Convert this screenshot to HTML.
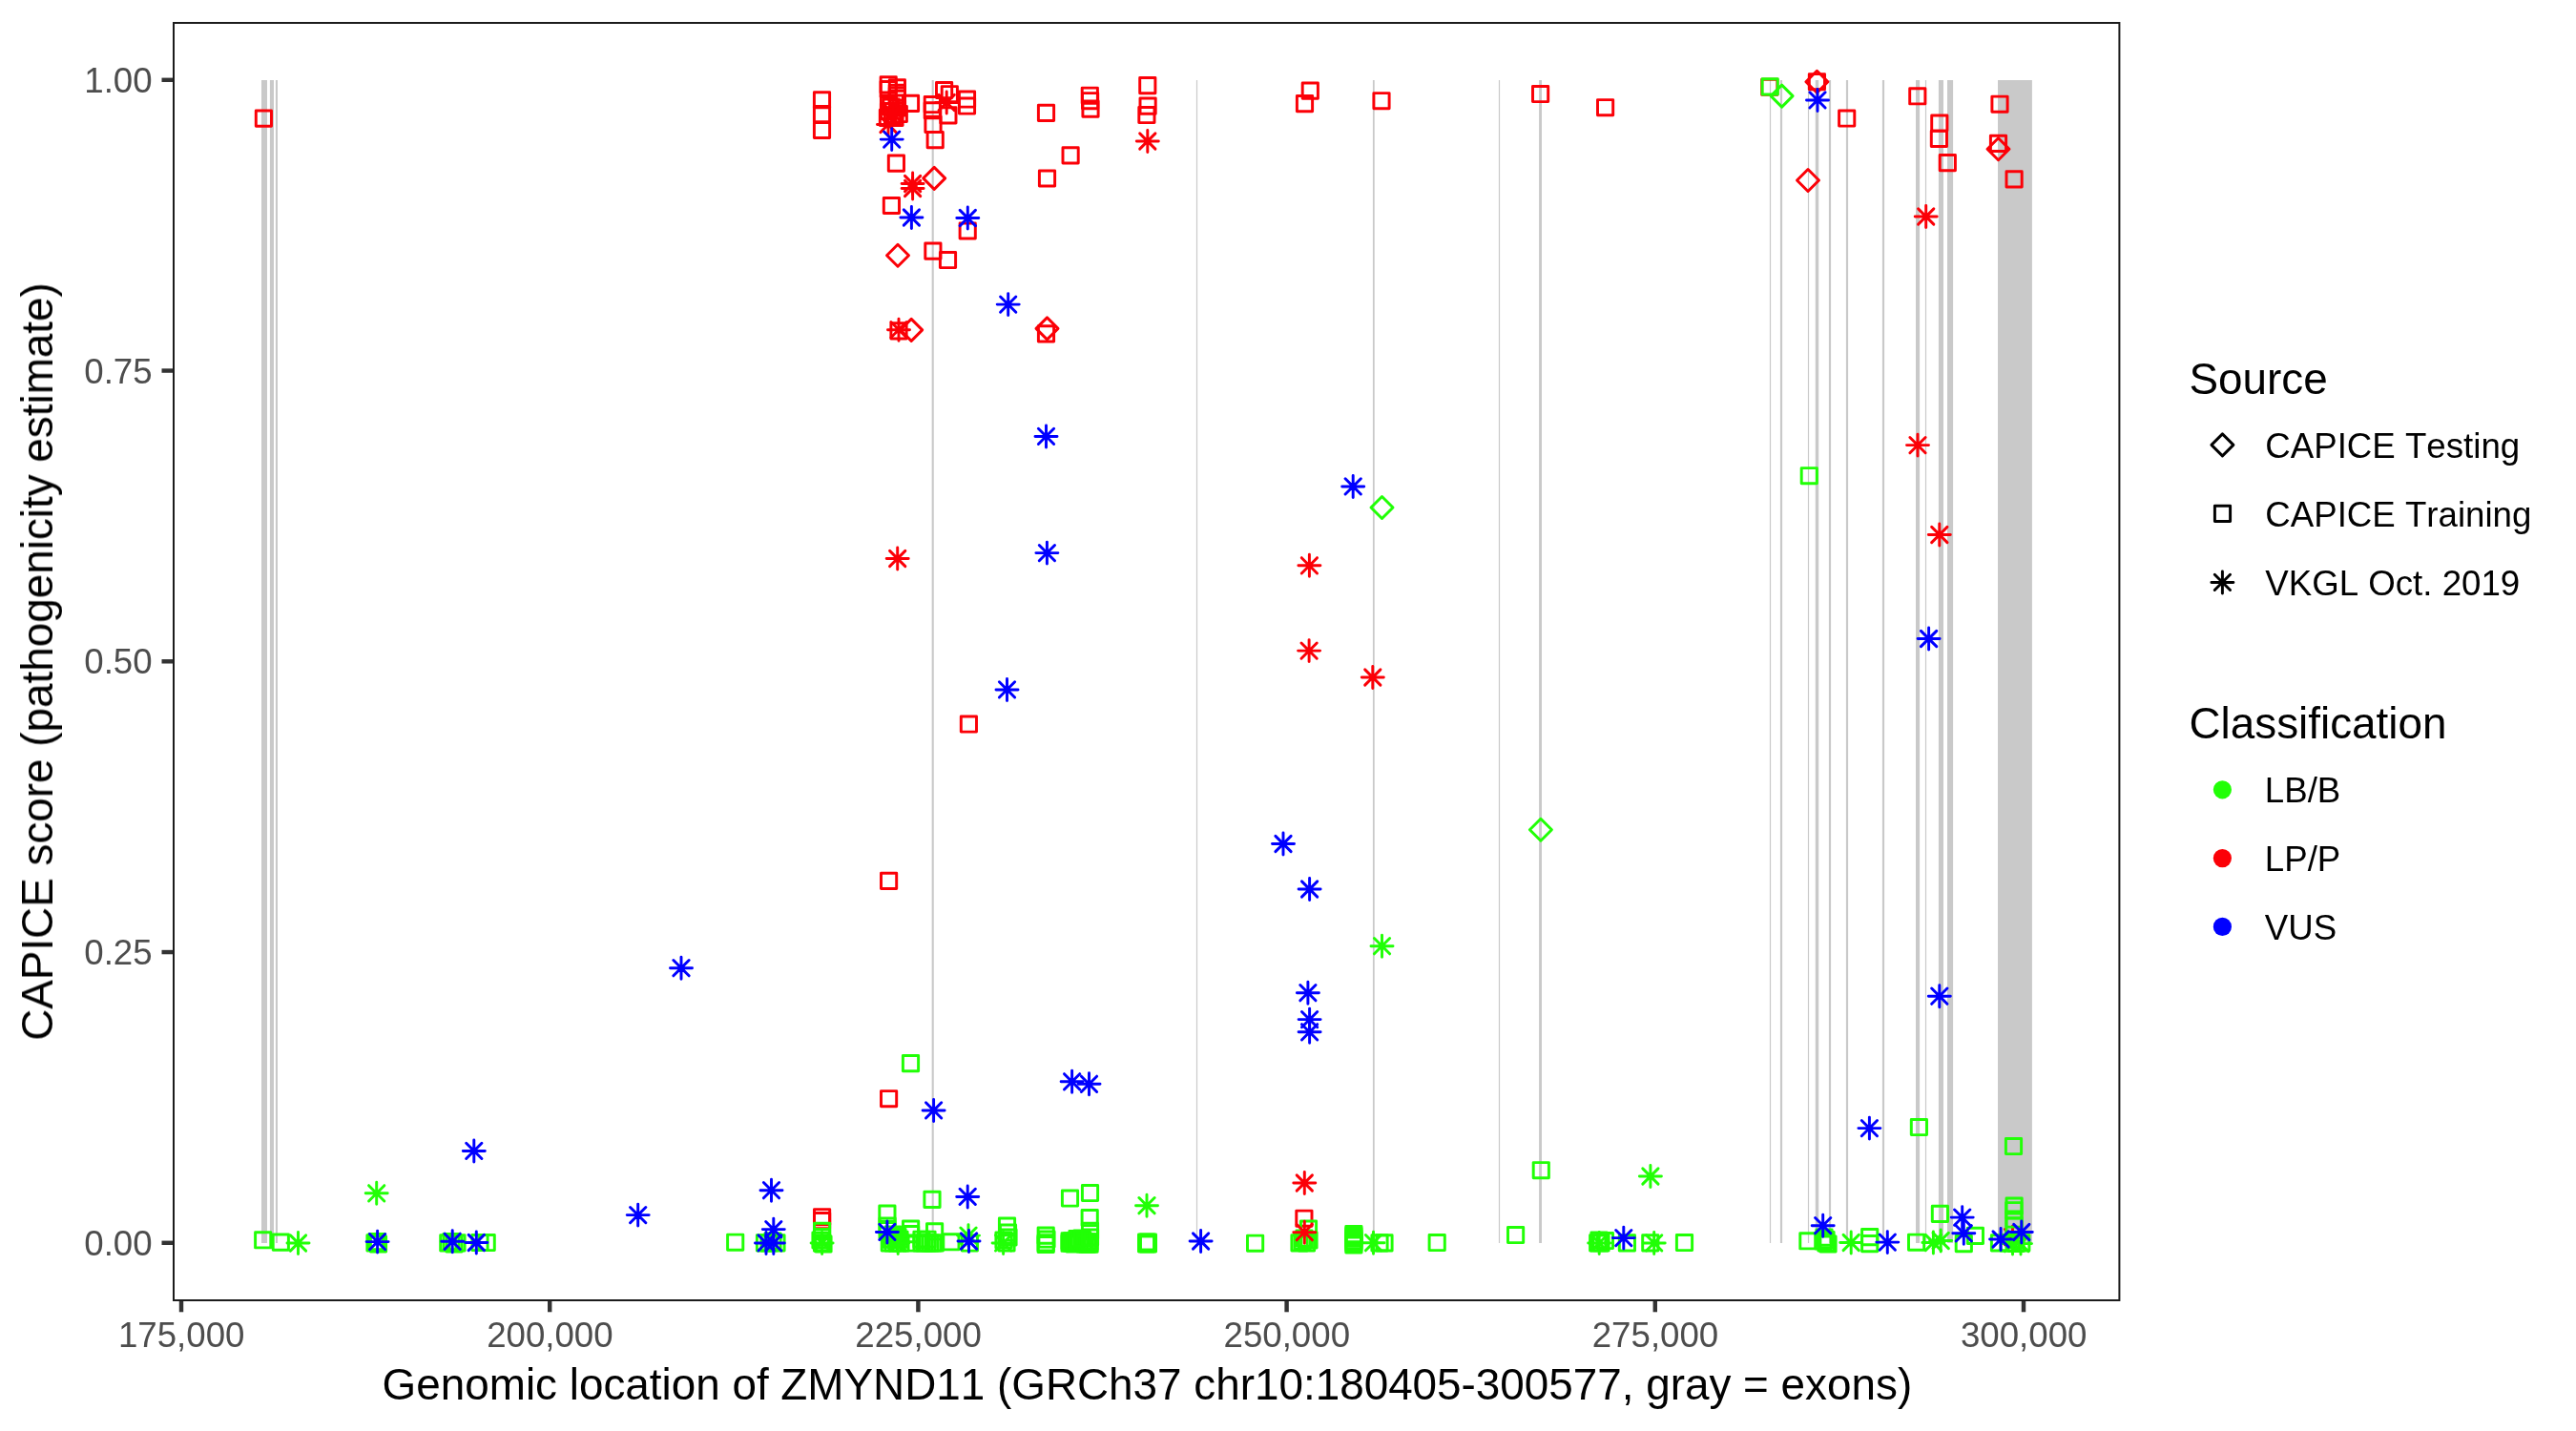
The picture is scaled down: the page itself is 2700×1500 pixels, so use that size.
<!DOCTYPE html>
<html><head><meta charset="utf-8"><title>CAPICE ZMYND11</title>
<style>
html,body{margin:0;padding:0;background:#fff;}
svg{display:block}
text{font-family:"Liberation Sans",Arial,Helvetica,sans-serif;font-kerning:none;}
#txt{opacity:0.999}
.tk{font-size:36.67px;fill:#4D4D4D}
.lb{font-size:36.67px;fill:#000}
.ti{font-size:45.83px;fill:#000}
</style></head><body>
<svg width="2700" height="1500" viewBox="0 0 2700 1500">
<rect width="2700" height="1500" fill="#fff"/>

<g fill="#C9C9C9">
<rect x="274.0" y="84.0" width="6.00" height="1219.0"/>
<rect x="282.9" y="84.0" width="4.10" height="1219.0"/>
<rect x="288.9" y="84.0" width="2.10" height="1219.0"/>
<rect x="976.65" y="84.0" width="2.10" height="1219.0"/>
<rect x="1253.9" y="84.0" width="1.20" height="1219.0"/>
<rect x="1438.9" y="84.0" width="1.80" height="1219.0"/>
<rect x="1570.9" y="84.0" width="1.20" height="1219.0"/>
<rect x="1613.1" y="84.0" width="2.90" height="1219.0"/>
<rect x="1854.9" y="84.0" width="1.20" height="1219.0"/>
<rect x="1865.9" y="84.0" width="2.20" height="1219.0"/>
<rect x="1894.9" y="84.0" width="1.20" height="1219.0"/>
<rect x="1902.8" y="84.0" width="3.40" height="1219.0"/>
<rect x="1916.9" y="84.0" width="2.20" height="1219.0"/>
<rect x="1934.9" y="84.0" width="2.20" height="1219.0"/>
<rect x="1972.9" y="84.0" width="2.20" height="1219.0"/>
<rect x="2008.0" y="84.0" width="4.10" height="1219.0"/>
<rect x="2017.9" y="84.0" width="1.20" height="1219.0"/>
<rect x="2031.9" y="84.0" width="5.10" height="1219.0"/>
<rect x="2041.0" y="84.0" width="6.10" height="1219.0"/>
<rect x="2094.0" y="84.0" width="35.90" height="1219.0"/>
</g>
<g fill="none" stroke-width="2.95" stroke-linejoin="round" stroke-linecap="round">
<rect x="268.30" y="116.00" width="16.20" height="16.20" stroke="#FB0007"/>
<rect x="853.40" y="96.70" width="16.20" height="16.20" stroke="#FB0007"/>
<rect x="853.40" y="111.50" width="16.20" height="16.20" stroke="#FB0007"/>
<rect x="853.40" y="128.40" width="16.20" height="16.20" stroke="#FB0007"/>
<rect x="923.10" y="80.80" width="16.20" height="16.20" stroke="#FB0007"/>
<rect x="923.10" y="85.40" width="16.20" height="16.20" stroke="#FB0007"/>
<rect x="932.30" y="83.80" width="16.20" height="16.20" stroke="#FB0007"/>
<rect x="932.30" y="89.20" width="16.20" height="16.20" stroke="#FB0007"/>
<rect x="932.30" y="92.00" width="16.20" height="16.20" stroke="#FB0007"/>
<rect x="932.30" y="95.30" width="16.20" height="16.20" stroke="#FB0007"/>
<rect x="923.40" y="99.90" width="16.20" height="16.20" stroke="#FB0007"/>
<rect x="925.90" y="103.90" width="16.20" height="16.20" stroke="#FB0007"/>
<rect x="932.40" y="104.90" width="16.20" height="16.20" stroke="#FB0007"/>
<rect x="923.40" y="108.40" width="16.20" height="16.20" stroke="#FB0007"/>
<rect x="927.40" y="112.90" width="16.20" height="16.20" stroke="#FB0007"/>
<rect x="934.20" y="111.40" width="16.20" height="16.20" stroke="#FB0007"/>
<rect x="922.30" y="115.30" width="16.20" height="16.20" stroke="#FB0007"/>
<rect x="929.90" y="115.30" width="16.20" height="16.20" stroke="#FB0007"/>
<rect x="946.40" y="100.30" width="16.20" height="16.20" stroke="#FB0007"/>
<rect x="969.20" y="101.40" width="16.20" height="16.20" stroke="#FB0007"/>
<rect x="969.20" y="107.70" width="16.20" height="16.20" stroke="#FB0007"/>
<rect x="969.90" y="122.20" width="16.20" height="16.20" stroke="#FB0007"/>
<rect x="972.10" y="138.50" width="16.20" height="16.20" stroke="#FB0007"/>
<rect x="981.50" y="86.40" width="16.20" height="16.20" stroke="#FB0007"/>
<rect x="987.20" y="90.60" width="16.20" height="16.20" stroke="#FB0007"/>
<rect x="985.80" y="112.70" width="16.20" height="16.20" stroke="#FB0007"/>
<rect x="1005.40" y="95.90" width="16.20" height="16.20" stroke="#FB0007"/>
<rect x="1005.40" y="102.90" width="16.20" height="16.20" stroke="#FB0007"/>
<rect x="931.30" y="163.00" width="16.20" height="16.20" stroke="#FB0007"/>
<rect x="926.30" y="207.40" width="16.20" height="16.20" stroke="#FB0007"/>
<rect x="1006.10" y="233.90" width="16.20" height="16.20" stroke="#FB0007"/>
<rect x="969.80" y="255.00" width="16.20" height="16.20" stroke="#FB0007"/>
<rect x="985.40" y="264.40" width="16.20" height="16.20" stroke="#FB0007"/>
<rect x="933.90" y="338.80" width="16.20" height="16.20" stroke="#FB0007"/>
<rect x="1088.40" y="341.80" width="16.20" height="16.20" stroke="#FB0007"/>
<rect x="1088.40" y="110.30" width="16.20" height="16.20" stroke="#FB0007"/>
<rect x="1114.00" y="154.70" width="16.20" height="16.20" stroke="#FB0007"/>
<rect x="1089.40" y="178.90" width="16.20" height="16.20" stroke="#FB0007"/>
<rect x="1134.20" y="92.10" width="16.20" height="16.20" stroke="#FB0007"/>
<rect x="1134.50" y="97.60" width="16.20" height="16.20" stroke="#FB0007"/>
<rect x="1134.90" y="106.00" width="16.20" height="16.20" stroke="#FB0007"/>
<rect x="1194.70" y="81.50" width="16.20" height="16.20" stroke="#FB0007"/>
<rect x="1195.00" y="103.00" width="16.20" height="16.20" stroke="#FB0007"/>
<rect x="1193.80" y="112.40" width="16.20" height="16.20" stroke="#FB0007"/>
<rect x="1365.20" y="87.00" width="16.20" height="16.20" stroke="#FB0007"/>
<rect x="1359.40" y="100.50" width="16.20" height="16.20" stroke="#FB0007"/>
<rect x="1439.90" y="97.60" width="16.20" height="16.20" stroke="#FB0007"/>
<rect x="1606.50" y="90.40" width="16.20" height="16.20" stroke="#FB0007"/>
<rect x="1674.50" y="104.60" width="16.20" height="16.20" stroke="#FB0007"/>
<rect x="1846.70" y="83.20" width="16.20" height="16.20" stroke="#FB0007"/>
<rect x="1896.30" y="77.60" width="16.20" height="16.20" stroke="#FB0007"/>
<rect x="1927.60" y="115.90" width="16.20" height="16.20" stroke="#FB0007"/>
<rect x="2001.70" y="92.70" width="16.20" height="16.20" stroke="#FB0007"/>
<rect x="2024.70" y="120.90" width="16.20" height="16.20" stroke="#FB0007"/>
<rect x="2024.30" y="137.30" width="16.20" height="16.20" stroke="#FB0007"/>
<rect x="2033.20" y="162.50" width="16.20" height="16.20" stroke="#FB0007"/>
<rect x="2087.90" y="101.10" width="16.20" height="16.20" stroke="#FB0007"/>
<rect x="2086.40" y="142.30" width="16.20" height="16.20" stroke="#FB0007"/>
<rect x="2103.00" y="179.70" width="16.20" height="16.20" stroke="#FB0007"/>
<rect x="1007.30" y="750.90" width="16.20" height="16.20" stroke="#FB0007"/>
<rect x="923.50" y="915.20" width="16.20" height="16.20" stroke="#FB0007"/>
<rect x="923.50" y="1143.60" width="16.20" height="16.20" stroke="#FB0007"/>
<rect x="853.50" y="1267.60" width="16.20" height="16.20" stroke="#FB0007"/>
<rect x="853.50" y="1271.50" width="16.20" height="16.20" stroke="#FB0007"/>
<rect x="1358.80" y="1269.10" width="16.20" height="16.20" stroke="#FB0007"/>
<path d="M967.70 186.90L979.20 175.40L990.70 186.90L979.20 198.40Z" stroke="#FB0007"/>
<path d="M929.50 267.80L941.00 256.30L952.50 267.80L941.00 279.30Z" stroke="#FB0007"/>
<path d="M943.70 345.90L955.20 334.40L966.70 345.90L955.20 357.40Z" stroke="#FB0007"/>
<path d="M1086.00 344.40L1097.50 332.90L1109.00 344.40L1097.50 355.90Z" stroke="#FB0007"/>
<path d="M1892.90 85.70L1904.40 74.20L1915.90 85.70L1904.40 97.20Z" stroke="#FB0007"/>
<path d="M1883.50 189.00L1895.00 177.50L1906.50 189.00L1895.00 200.50Z" stroke="#FB0007"/>
<path d="M2083.00 156.30L2094.50 144.80L2106.00 156.30L2094.50 167.80Z" stroke="#FB0007"/>
<path d="M2098.00 1296.60H2121.00M2109.50 1285.10V1308.10M2101.37 1288.47L2117.63 1304.73M2101.37 1304.73L2117.63 1288.47" stroke="#FB0007"/>
<rect x="1847.10" y="82.80" width="16.20" height="16.20" stroke="#21FF06"/>
<rect x="1888.20" y="490.60" width="16.20" height="16.20" stroke="#21FF06"/>
<rect x="946.40" y="1106.50" width="16.20" height="16.20" stroke="#21FF06"/>
<rect x="2003.30" y="1173.40" width="16.20" height="16.20" stroke="#21FF06"/>
<rect x="2102.40" y="1193.40" width="16.20" height="16.20" stroke="#21FF06"/>
<rect x="1607.20" y="1218.60" width="16.20" height="16.20" stroke="#21FF06"/>
<rect x="267.60" y="1291.70" width="16.20" height="16.20" stroke="#21FF06"/>
<rect x="286.20" y="1294.00" width="16.20" height="16.20" stroke="#21FF06"/>
<rect x="384.90" y="1294.80" width="16.20" height="16.20" stroke="#21FF06"/>
<rect x="386.90" y="1293.40" width="16.20" height="16.20" stroke="#21FF06"/>
<rect x="388.40" y="1295.90" width="16.20" height="16.20" stroke="#21FF06"/>
<rect x="461.70" y="1294.80" width="16.20" height="16.20" stroke="#21FF06"/>
<rect x="464.90" y="1293.40" width="16.20" height="16.20" stroke="#21FF06"/>
<rect x="470.90" y="1294.80" width="16.20" height="16.20" stroke="#21FF06"/>
<rect x="467.90" y="1295.90" width="16.20" height="16.20" stroke="#21FF06"/>
<rect x="502.10" y="1294.40" width="16.20" height="16.20" stroke="#21FF06"/>
<rect x="494.90" y="1294.40" width="16.20" height="16.20" stroke="#21FF06"/>
<rect x="762.60" y="1294.10" width="16.20" height="16.20" stroke="#21FF06"/>
<rect x="793.40" y="1294.80" width="16.20" height="16.20" stroke="#21FF06"/>
<rect x="805.90" y="1294.80" width="16.20" height="16.20" stroke="#21FF06"/>
<rect x="797.90" y="1294.80" width="16.20" height="16.20" stroke="#21FF06"/>
<rect x="801.90" y="1292.90" width="16.20" height="16.20" stroke="#21FF06"/>
<rect x="853.50" y="1282.30" width="16.20" height="16.20" stroke="#21FF06"/>
<rect x="853.50" y="1288.50" width="16.20" height="16.20" stroke="#21FF06"/>
<rect x="853.50" y="1294.80" width="16.20" height="16.20" stroke="#21FF06"/>
<rect x="851.90" y="1291.90" width="16.20" height="16.20" stroke="#21FF06"/>
<rect x="854.90" y="1295.90" width="16.20" height="16.20" stroke="#21FF06"/>
<rect x="921.80" y="1264.00" width="16.20" height="16.20" stroke="#21FF06"/>
<rect x="968.90" y="1249.30" width="16.20" height="16.20" stroke="#21FF06"/>
<rect x="971.50" y="1282.70" width="16.20" height="16.20" stroke="#21FF06"/>
<rect x="988.80" y="1293.70" width="16.20" height="16.20" stroke="#21FF06"/>
<rect x="1047.40" y="1276.90" width="16.20" height="16.20" stroke="#21FF06"/>
<rect x="1048.40" y="1283.90" width="16.20" height="16.20" stroke="#21FF06"/>
<rect x="1046.90" y="1294.80" width="16.20" height="16.20" stroke="#21FF06"/>
<rect x="1043.90" y="1291.90" width="16.20" height="16.20" stroke="#21FF06"/>
<rect x="1048.90" y="1288.90" width="16.20" height="16.20" stroke="#21FF06"/>
<rect x="1088.10" y="1287.00" width="16.20" height="16.20" stroke="#21FF06"/>
<rect x="1088.10" y="1294.80" width="16.20" height="16.20" stroke="#21FF06"/>
<rect x="1088.10" y="1296.40" width="16.20" height="16.20" stroke="#21FF06"/>
<rect x="1088.90" y="1290.90" width="16.20" height="16.20" stroke="#21FF06"/>
<rect x="1113.40" y="1247.90" width="16.20" height="16.20" stroke="#21FF06"/>
<rect x="1134.40" y="1242.40" width="16.20" height="16.20" stroke="#21FF06"/>
<rect x="1134.10" y="1268.40" width="16.20" height="16.20" stroke="#21FF06"/>
<rect x="1134.40" y="1282.30" width="16.20" height="16.20" stroke="#21FF06"/>
<rect x="1113.00" y="1292.80" width="16.20" height="16.20" stroke="#21FF06"/>
<rect x="1115.40" y="1295.20" width="16.20" height="16.20" stroke="#21FF06"/>
<rect x="1113.00" y="1295.20" width="16.20" height="16.20" stroke="#21FF06"/>
<rect x="1115.40" y="1292.80" width="16.20" height="16.20" stroke="#21FF06"/>
<rect x="1131.60" y="1293.60" width="16.20" height="16.20" stroke="#21FF06"/>
<rect x="1134.00" y="1296.00" width="16.20" height="16.20" stroke="#21FF06"/>
<rect x="1131.60" y="1296.00" width="16.20" height="16.20" stroke="#21FF06"/>
<rect x="1134.00" y="1293.60" width="16.20" height="16.20" stroke="#21FF06"/>
<rect x="1119.90" y="1292.90" width="16.20" height="16.20" stroke="#21FF06"/>
<rect x="1123.40" y="1295.40" width="16.20" height="16.20" stroke="#21FF06"/>
<rect x="1126.90" y="1292.40" width="16.20" height="16.20" stroke="#21FF06"/>
<rect x="1117.90" y="1295.90" width="16.20" height="16.20" stroke="#21FF06"/>
<rect x="1128.90" y="1295.90" width="16.20" height="16.20" stroke="#21FF06"/>
<rect x="1120.90" y="1290.40" width="16.20" height="16.20" stroke="#21FF06"/>
<rect x="1125.90" y="1289.90" width="16.20" height="16.20" stroke="#21FF06"/>
<rect x="1134.40" y="1288.90" width="16.20" height="16.20" stroke="#21FF06"/>
<rect x="1193.50" y="1294.00" width="16.20" height="16.20" stroke="#21FF06"/>
<rect x="1195.30" y="1295.80" width="16.20" height="16.20" stroke="#21FF06"/>
<rect x="1193.50" y="1295.80" width="16.20" height="16.20" stroke="#21FF06"/>
<rect x="1195.30" y="1294.00" width="16.20" height="16.20" stroke="#21FF06"/>
<rect x="1307.50" y="1295.10" width="16.20" height="16.20" stroke="#21FF06"/>
<rect x="1363.40" y="1280.00" width="16.20" height="16.20" stroke="#21FF06"/>
<rect x="1353.90" y="1294.80" width="16.20" height="16.20" stroke="#21FF06"/>
<rect x="1361.40" y="1294.80" width="16.20" height="16.20" stroke="#21FF06"/>
<rect x="1358.90" y="1289.90" width="16.20" height="16.20" stroke="#21FF06"/>
<rect x="1363.90" y="1291.90" width="16.20" height="16.20" stroke="#21FF06"/>
<rect x="1356.90" y="1292.90" width="16.20" height="16.20" stroke="#21FF06"/>
<rect x="1410.80" y="1285.40" width="16.20" height="16.20" stroke="#21FF06"/>
<rect x="1410.80" y="1289.90" width="16.20" height="16.20" stroke="#21FF06"/>
<rect x="1410.80" y="1294.80" width="16.20" height="16.20" stroke="#21FF06"/>
<rect x="1410.80" y="1296.90" width="16.20" height="16.20" stroke="#21FF06"/>
<rect x="1410.80" y="1287.40" width="16.20" height="16.20" stroke="#21FF06"/>
<rect x="1410.80" y="1292.40" width="16.20" height="16.20" stroke="#21FF06"/>
<rect x="1442.90" y="1294.80" width="16.20" height="16.20" stroke="#21FF06"/>
<rect x="1437.90" y="1294.80" width="16.20" height="16.20" stroke="#21FF06"/>
<rect x="1498.10" y="1294.40" width="16.20" height="16.20" stroke="#21FF06"/>
<rect x="1580.50" y="1286.40" width="16.20" height="16.20" stroke="#21FF06"/>
<rect x="1666.60" y="1294.80" width="16.20" height="16.20" stroke="#21FF06"/>
<rect x="1674.30" y="1292.40" width="16.20" height="16.20" stroke="#21FF06"/>
<rect x="1669.90" y="1294.80" width="16.20" height="16.20" stroke="#21FF06"/>
<rect x="1667.90" y="1291.90" width="16.20" height="16.20" stroke="#21FF06"/>
<rect x="1697.30" y="1294.80" width="16.20" height="16.20" stroke="#21FF06"/>
<rect x="1721.70" y="1294.80" width="16.20" height="16.20" stroke="#21FF06"/>
<rect x="1757.40" y="1294.40" width="16.20" height="16.20" stroke="#21FF06"/>
<rect x="1886.80" y="1292.70" width="16.20" height="16.20" stroke="#21FF06"/>
<rect x="1905.80" y="1294.80" width="16.20" height="16.20" stroke="#21FF06"/>
<rect x="1903.90" y="1288.90" width="16.20" height="16.20" stroke="#21FF06"/>
<rect x="1902.90" y="1292.90" width="16.20" height="16.20" stroke="#21FF06"/>
<rect x="1907.90" y="1295.90" width="16.20" height="16.20" stroke="#21FF06"/>
<rect x="1905.90" y="1291.40" width="16.20" height="16.20" stroke="#21FF06"/>
<rect x="1951.60" y="1288.50" width="16.20" height="16.20" stroke="#21FF06"/>
<rect x="1951.60" y="1295.50" width="16.20" height="16.20" stroke="#21FF06"/>
<rect x="2000.50" y="1294.10" width="16.20" height="16.20" stroke="#21FF06"/>
<rect x="2025.30" y="1264.30" width="16.20" height="16.20" stroke="#21FF06"/>
<rect x="2062.30" y="1287.30" width="16.20" height="16.20" stroke="#21FF06"/>
<rect x="2050.20" y="1295.50" width="16.20" height="16.20" stroke="#21FF06"/>
<rect x="2103.00" y="1255.90" width="16.20" height="16.20" stroke="#21FF06"/>
<rect x="2102.70" y="1260.60" width="16.20" height="16.20" stroke="#21FF06"/>
<rect x="2102.90" y="1269.90" width="16.20" height="16.20" stroke="#21FF06"/>
<rect x="2102.90" y="1276.90" width="16.20" height="16.20" stroke="#21FF06"/>
<rect x="2087.40" y="1294.80" width="16.20" height="16.20" stroke="#21FF06"/>
<rect x="2110.70" y="1294.80" width="16.20" height="16.20" stroke="#21FF06"/>
<rect x="2102.90" y="1291.70" width="16.20" height="16.20" stroke="#21FF06"/>
<rect x="2096.90" y="1294.80" width="16.20" height="16.20" stroke="#21FF06"/>
<rect x="2104.90" y="1295.40" width="16.20" height="16.20" stroke="#21FF06"/>
<rect x="924.20" y="1294.90" width="16.20" height="16.20" stroke="#21FF06"/>
<rect x="927.90" y="1294.90" width="16.20" height="16.20" stroke="#21FF06"/>
<rect x="931.90" y="1294.90" width="16.20" height="16.20" stroke="#21FF06"/>
<rect x="935.90" y="1294.90" width="16.20" height="16.20" stroke="#21FF06"/>
<rect x="946.50" y="1294.90" width="16.20" height="16.20" stroke="#21FF06"/>
<rect x="957.90" y="1294.90" width="16.20" height="16.20" stroke="#21FF06"/>
<rect x="960.90" y="1294.90" width="16.20" height="16.20" stroke="#21FF06"/>
<rect x="963.90" y="1294.90" width="16.20" height="16.20" stroke="#21FF06"/>
<rect x="966.90" y="1294.90" width="16.20" height="16.20" stroke="#21FF06"/>
<rect x="969.90" y="1294.90" width="16.20" height="16.20" stroke="#21FF06"/>
<rect x="972.20" y="1294.90" width="16.20" height="16.20" stroke="#21FF06"/>
<rect x="925.90" y="1291.10" width="16.20" height="16.20" stroke="#21FF06"/>
<rect x="930.90" y="1291.10" width="16.20" height="16.20" stroke="#21FF06"/>
<rect x="934.90" y="1291.10" width="16.20" height="16.20" stroke="#21FF06"/>
<rect x="957.90" y="1291.10" width="16.20" height="16.20" stroke="#21FF06"/>
<rect x="963.90" y="1291.10" width="16.20" height="16.20" stroke="#21FF06"/>
<rect x="927.90" y="1285.90" width="16.20" height="16.20" stroke="#21FF06"/>
<rect x="932.90" y="1288.40" width="16.20" height="16.20" stroke="#21FF06"/>
<rect x="946.50" y="1279.90" width="16.20" height="16.20" stroke="#21FF06"/>
<rect x="946.50" y="1285.50" width="16.20" height="16.20" stroke="#21FF06"/>
<rect x="922.00" y="1276.90" width="16.20" height="16.20" stroke="#21FF06"/>
<rect x="922.00" y="1281.50" width="16.20" height="16.20" stroke="#21FF06"/>
<rect x="1008.30" y="1294.90" width="16.20" height="16.20" stroke="#21FF06"/>
<path d="M1856.10 100.60L1867.60 89.10L1879.10 100.60L1867.60 112.10Z" stroke="#21FF06"/>
<path d="M1437.00 532.00L1448.50 520.50L1460.00 532.00L1448.50 543.50Z" stroke="#21FF06"/>
<path d="M1603.40 869.70L1614.90 858.20L1626.40 869.70L1614.90 881.20Z" stroke="#21FF06"/>
<path d="M383.20 1250.80H406.20M394.70 1239.30V1262.30M386.57 1242.67L402.83 1258.93M386.57 1258.93L402.83 1242.67" stroke="#21FF06"/>
<path d="M301.00 1303.00H324.00M312.50 1291.50V1314.50M304.37 1294.87L320.63 1311.13M304.37 1311.13L320.63 1294.87" stroke="#21FF06"/>
<path d="M1437.00 991.70H1460.00M1448.50 980.20V1003.20M1440.37 983.57L1456.63 999.83M1440.37 999.83L1456.63 983.57" stroke="#21FF06"/>
<path d="M1718.40 1233.00H1741.40M1729.90 1221.50V1244.50M1721.77 1224.87L1738.03 1241.13M1721.77 1241.13L1738.03 1224.87" stroke="#21FF06"/>
<path d="M1190.50 1263.70H1213.50M1202.00 1252.20V1275.20M1193.87 1255.57L1210.13 1271.83M1193.87 1271.83L1210.13 1255.57" stroke="#21FF06"/>
<path d="M1003.50 1295.10H1026.50M1015.00 1283.60V1306.60M1006.87 1286.97L1023.13 1303.23M1006.87 1303.23L1023.13 1286.97" stroke="#21FF06"/>
<path d="M850.10 1302.90H873.10M861.60 1291.40V1314.40M853.47 1294.77L869.73 1311.03M853.47 1311.03L869.73 1294.77" stroke="#21FF06"/>
<path d="M1040.10 1302.90H1063.10M1051.60 1291.40V1314.40M1043.47 1294.77L1059.73 1311.03M1043.47 1311.03L1059.73 1294.77" stroke="#21FF06"/>
<path d="M1428.00 1302.70H1451.00M1439.50 1291.20V1314.20M1431.37 1294.57L1447.63 1310.83M1431.37 1310.83L1447.63 1294.57" stroke="#21FF06"/>
<path d="M1664.70 1302.90H1687.70M1676.20 1291.40V1314.40M1668.07 1294.77L1684.33 1311.03M1668.07 1311.03L1684.33 1294.77" stroke="#21FF06"/>
<path d="M1722.20 1302.90H1745.20M1733.70 1291.40V1314.40M1725.57 1294.77L1741.83 1311.03M1725.57 1311.03L1741.83 1294.77" stroke="#21FF06"/>
<path d="M1928.70 1302.50H1951.70M1940.20 1291.00V1314.00M1932.07 1294.37L1948.33 1310.63M1932.07 1310.63L1948.33 1294.37" stroke="#21FF06"/>
<path d="M2014.90 1302.50H2037.90M2026.40 1291.00V1314.00M2018.27 1294.37L2034.53 1310.63M2018.27 1310.63L2034.53 1294.37" stroke="#21FF06"/>
<path d="M2022.70 1300.50H2045.70M2034.20 1289.00V1312.00M2026.07 1292.37L2042.33 1308.63M2026.07 1308.63L2042.33 1292.37" stroke="#21FF06"/>
<path d="M2098.00 1303.60H2121.00M2109.50 1292.10V1315.10M2101.37 1295.47L2117.63 1311.73M2101.37 1311.73L2117.63 1295.47" stroke="#21FF06"/>
<path d="M2106.50 1303.60H2129.50M2118.00 1292.10V1315.10M2109.87 1295.47L2126.13 1311.73M2109.87 1311.73L2126.13 1295.47" stroke="#21FF06"/>
<path d="M929.70 1302.90H952.70M941.20 1291.40V1314.40M933.07 1294.77L949.33 1311.03M933.07 1311.03L949.33 1294.77" stroke="#21FF06"/>
<path d="M980.70 107.50H1003.70M992.20 96.00V119.00M984.07 99.37L1000.33 115.63M984.07 115.63L1000.33 99.37" stroke="#FB0007"/>
<path d="M919.50 130.50H942.50M931.00 119.00V142.00M922.87 122.37L939.13 138.63M922.87 138.63L939.13 122.37" stroke="#FB0007"/>
<path d="M924.50 119.00H947.50M936.00 107.50V130.50M927.87 110.87L944.13 127.13M927.87 127.13L944.13 110.87" stroke="#FB0007"/>
<path d="M945.10 192.50H968.10M956.60 181.00V204.00M948.47 184.37L964.73 200.63M948.47 200.63L964.73 184.37" stroke="#FB0007"/>
<path d="M945.10 197.50H968.10M956.60 186.00V209.00M948.47 189.37L964.73 205.63M948.47 205.63L964.73 189.37" stroke="#FB0007"/>
<path d="M1191.30 148.00H1214.30M1202.80 136.50V159.50M1194.67 139.87L1210.93 156.13M1194.67 156.13L1210.93 139.87" stroke="#FB0007"/>
<path d="M930.50 345.70H953.50M942.00 334.20V357.20M933.87 337.57L950.13 353.83M933.87 353.83L950.13 337.57" stroke="#FB0007"/>
<path d="M929.20 585.50H952.20M940.70 574.00V597.00M932.57 577.37L948.83 593.63M932.57 593.63L948.83 577.37" stroke="#FB0007"/>
<path d="M1360.90 592.80H1383.90M1372.40 581.30V604.30M1364.27 584.67L1380.53 600.93M1364.27 600.93L1380.53 584.67" stroke="#FB0007"/>
<path d="M1360.60 682.10H1383.60M1372.10 670.60V693.60M1363.97 673.97L1380.23 690.23M1363.97 690.23L1380.23 673.97" stroke="#FB0007"/>
<path d="M1427.30 710.00H1450.30M1438.80 698.50V721.50M1430.67 701.87L1446.93 718.13M1430.67 718.13L1446.93 701.87" stroke="#FB0007"/>
<path d="M2007.20 227.00H2030.20M2018.70 215.50V238.50M2010.57 218.87L2026.83 235.13M2010.57 235.13L2026.83 218.87" stroke="#FB0007"/>
<path d="M1998.50 466.60H2021.50M2010.00 455.10V478.10M2001.87 458.47L2018.13 474.73M2001.87 474.73L2018.13 458.47" stroke="#FB0007"/>
<path d="M2021.30 560.50H2044.30M2032.80 549.00V572.00M2024.67 552.37L2040.93 568.63M2024.67 568.63L2040.93 552.37" stroke="#FB0007"/>
<path d="M1355.80 1240.00H1378.80M1367.30 1228.50V1251.50M1359.17 1231.87L1375.43 1248.13M1359.17 1248.13L1375.43 1231.87" stroke="#FB0007"/>
<path d="M1355.80 1291.70H1378.80M1367.30 1280.20V1303.20M1359.17 1283.57L1375.43 1299.83M1359.17 1299.83L1375.43 1283.57" stroke="#FB0007"/>
<path d="M923.20 146.10H946.20M934.70 134.60V157.60M926.57 137.97L942.83 154.23M926.57 154.23L942.83 137.97" stroke="#0000FF"/>
<path d="M943.90 228.00H966.90M955.40 216.50V239.50M947.27 219.87L963.53 236.13M947.27 236.13L963.53 219.87" stroke="#0000FF"/>
<path d="M1002.80 228.50H1025.80M1014.30 217.00V240.00M1006.17 220.37L1022.43 236.63M1006.17 236.63L1022.43 220.37" stroke="#0000FF"/>
<path d="M1045.20 319.10H1068.20M1056.70 307.60V330.60M1048.57 310.97L1064.83 327.23M1048.57 327.23L1064.83 310.97" stroke="#0000FF"/>
<path d="M1085.00 457.40H1108.00M1096.50 445.90V468.90M1088.37 449.27L1104.63 465.53M1088.37 465.53L1104.63 449.27" stroke="#0000FF"/>
<path d="M1085.90 579.60H1108.90M1097.40 568.10V591.10M1089.27 571.47L1105.53 587.73M1089.27 587.73L1105.53 571.47" stroke="#0000FF"/>
<path d="M1406.70 509.90H1429.70M1418.20 498.40V521.40M1410.07 501.77L1426.33 518.03M1410.07 518.03L1426.33 501.77" stroke="#0000FF"/>
<path d="M1044.00 722.90H1067.00M1055.50 711.40V734.40M1047.37 714.77L1063.63 731.03M1047.37 731.03L1063.63 714.77" stroke="#0000FF"/>
<path d="M1333.50 884.50H1356.50M1345.00 873.00V896.00M1336.87 876.37L1353.13 892.63M1336.87 892.63L1353.13 876.37" stroke="#0000FF"/>
<path d="M1361.10 932.00H1384.10M1372.60 920.50V943.50M1364.47 923.87L1380.73 940.13M1364.47 940.13L1380.73 923.87" stroke="#0000FF"/>
<path d="M1359.40 1040.70H1382.40M1370.90 1029.20V1052.20M1362.77 1032.57L1379.03 1048.83M1362.77 1048.83L1379.03 1032.57" stroke="#0000FF"/>
<path d="M1361.10 1068.60H1384.10M1372.60 1057.10V1080.10M1364.47 1060.47L1380.73 1076.73M1364.47 1076.73L1380.73 1060.47" stroke="#0000FF"/>
<path d="M1361.10 1081.80H1384.10M1372.60 1070.30V1093.30M1364.47 1073.67L1380.73 1089.93M1364.47 1089.93L1380.73 1073.67" stroke="#0000FF"/>
<path d="M1112.10 1133.80H1135.10M1123.60 1122.30V1145.30M1115.47 1125.67L1131.73 1141.93M1115.47 1141.93L1131.73 1125.67" stroke="#0000FF"/>
<path d="M1130.00 1136.30H1153.00M1141.50 1124.80V1147.80M1133.37 1128.17L1149.63 1144.43M1133.37 1144.43L1149.63 1128.17" stroke="#0000FF"/>
<path d="M967.10 1163.90H990.10M978.60 1152.40V1175.40M970.47 1155.77L986.73 1172.03M970.47 1172.03L986.73 1155.77" stroke="#0000FF"/>
<path d="M1002.70 1254.40H1025.70M1014.20 1242.90V1265.90M1006.07 1246.27L1022.33 1262.53M1006.07 1262.53L1022.33 1246.27" stroke="#0000FF"/>
<path d="M1893.50 104.90H1916.50M1905.00 93.40V116.40M1896.87 96.77L1913.13 113.03M1896.87 113.03L1913.13 96.77" stroke="#0000FF"/>
<path d="M2010.10 669.50H2033.10M2021.60 658.00V681.00M2013.47 661.37L2029.73 677.63M2013.47 677.63L2029.73 661.37" stroke="#0000FF"/>
<path d="M2021.30 1044.20H2044.30M2032.80 1032.70V1055.70M2024.67 1036.07L2040.93 1052.33M2024.67 1052.33L2040.93 1036.07" stroke="#0000FF"/>
<path d="M1947.90 1182.60H1970.90M1959.40 1171.10V1194.10M1951.27 1174.47L1967.53 1190.73M1951.27 1190.73L1967.53 1174.47" stroke="#0000FF"/>
<path d="M702.50 1014.70H725.50M714.00 1003.20V1026.20M705.87 1006.57L722.13 1022.83M705.87 1022.83L722.13 1006.57" stroke="#0000FF"/>
<path d="M485.30 1206.40H508.30M496.80 1194.90V1217.90M488.67 1198.27L504.93 1214.53M488.67 1214.53L504.93 1198.27" stroke="#0000FF"/>
<path d="M797.00 1247.70H820.00M808.50 1236.20V1259.20M800.37 1239.57L816.63 1255.83M800.37 1255.83L816.63 1239.57" stroke="#0000FF"/>
<path d="M657.20 1273.60H680.20M668.70 1262.10V1285.10M660.57 1265.47L676.83 1281.73M660.57 1281.73L676.83 1265.47" stroke="#0000FF"/>
<path d="M384.10 1301.60H407.10M395.60 1290.10V1313.10M387.47 1293.47L403.73 1309.73M387.47 1309.73L403.73 1293.47" stroke="#0000FF"/>
<path d="M462.70 1301.30H485.70M474.20 1289.80V1312.80M466.07 1293.17L482.33 1309.43M466.07 1309.43L482.33 1293.17" stroke="#0000FF"/>
<path d="M487.80 1302.50H510.80M499.30 1291.00V1314.00M491.17 1294.37L507.43 1310.63M491.17 1310.63L507.43 1294.37" stroke="#0000FF"/>
<path d="M799.30 1288.60H822.30M810.80 1277.10V1300.10M802.67 1280.47L818.93 1296.73M802.67 1296.73L818.93 1280.47" stroke="#0000FF"/>
<path d="M791.50 1302.90H814.50M803.00 1291.40V1314.40M794.87 1294.77L811.13 1311.03M794.87 1311.03L811.13 1294.77" stroke="#0000FF"/>
<path d="M799.30 1302.90H822.30M810.80 1291.40V1314.40M802.67 1294.77L818.93 1311.03M802.67 1311.03L818.93 1294.77" stroke="#0000FF"/>
<path d="M918.40 1291.40H941.40M929.90 1279.90V1302.90M921.77 1283.27L938.03 1299.53M921.77 1299.53L938.03 1283.27" stroke="#0000FF"/>
<path d="M1004.00 1301.00H1027.00M1015.50 1289.50V1312.50M1007.37 1292.87L1023.63 1309.13M1007.37 1309.13L1023.63 1292.87" stroke="#0000FF"/>
<path d="M1247.10 1301.00H1270.10M1258.60 1289.50V1312.50M1250.47 1292.87L1266.73 1309.13M1250.47 1309.13L1266.73 1292.87" stroke="#0000FF"/>
<path d="M1690.30 1297.60H1713.30M1701.80 1286.10V1309.10M1693.67 1289.47L1709.93 1305.73M1693.67 1305.73L1709.93 1289.47" stroke="#0000FF"/>
<path d="M1899.20 1284.70H1922.20M1910.70 1273.20V1296.20M1902.57 1276.57L1918.83 1292.83M1902.57 1292.83L1918.83 1276.57" stroke="#0000FF"/>
<path d="M1966.80 1302.10H1989.80M1978.30 1290.60V1313.60M1970.17 1293.97L1986.43 1310.23M1970.17 1310.23L1986.43 1293.97" stroke="#0000FF"/>
<path d="M2045.20 1276.10H2068.20M2056.70 1264.60V1287.60M2048.57 1267.97L2064.83 1284.23M2048.57 1284.23L2064.83 1267.97" stroke="#0000FF"/>
<path d="M2046.80 1292.80H2069.80M2058.30 1281.30V1304.30M2050.17 1284.67L2066.43 1300.93M2050.17 1300.93L2066.43 1284.67" stroke="#0000FF"/>
<path d="M2085.60 1299.00H2108.60M2097.10 1287.50V1310.50M2088.97 1290.87L2105.23 1307.13M2088.97 1307.13L2105.23 1290.87" stroke="#0000FF"/>
<path d="M2107.30 1291.50H2130.30M2118.80 1280.00V1303.00M2110.67 1283.37L2126.93 1299.63M2110.67 1299.63L2126.93 1283.37" stroke="#0000FF"/>
</g>
<rect x="182.0" y="24.0" width="2039.4" height="1339.0" fill="none" stroke="#1c1c1c" stroke-width="2.0"/>
<g stroke="#333333" stroke-width="4.45">
<line x1="169.5" x2="181.0" y1="1302.80" y2="1302.80"/>
<line x1="169.5" x2="181.0" y1="998.05" y2="998.05"/>
<line x1="169.5" x2="181.0" y1="693.30" y2="693.30"/>
<line x1="169.5" x2="181.0" y1="388.55" y2="388.55"/>
<line x1="169.5" x2="181.0" y1="83.80" y2="83.80"/>
<line x1="190.00" x2="190.00" y1="1364.0" y2="1375.3"/>
<line x1="576.20" x2="576.20" y1="1364.0" y2="1375.3"/>
<line x1="962.40" x2="962.40" y1="1364.0" y2="1375.3"/>
<line x1="1348.60" x2="1348.60" y1="1364.0" y2="1375.3"/>
<line x1="1734.80" x2="1734.80" y1="1364.0" y2="1375.3"/>
<line x1="2121.00" x2="2121.00" y1="1364.0" y2="1375.3"/>
</g>
<g id="txt">
<text class="tk" x="159.6" y="1315.9" text-anchor="end">0.00</text>
<text class="tk" x="159.6" y="1011.1" text-anchor="end">0.25</text>
<text class="tk" x="159.6" y="706.4" text-anchor="end">0.50</text>
<text class="tk" x="159.6" y="401.6" text-anchor="end">0.75</text>
<text class="tk" x="159.6" y="96.9" text-anchor="end">1.00</text>
<text class="tk" x="190.2" y="1412.2" text-anchor="middle">175,000</text>
<text class="tk" x="576.4" y="1412.2" text-anchor="middle">200,000</text>
<text class="tk" x="962.6" y="1412.2" text-anchor="middle">225,000</text>
<text class="tk" x="1348.8" y="1412.2" text-anchor="middle">250,000</text>
<text class="tk" x="1735.0" y="1412.2" text-anchor="middle">275,000</text>
<text class="tk" x="2121.2" y="1412.2" text-anchor="middle">300,000</text>
<text class="ti" x="1202.4" y="1466.6" text-anchor="middle">Genomic location of ZMYND11 (GRCh37 chr10:180405-300577, gray = exons)</text>
<text class="ti" transform="translate(55,693.5) rotate(-90)" text-anchor="middle">CAPICE score (pathogenicity estimate)</text>
<text class="ti" x="2294.5" y="413">Source</text>
<g fill="none" stroke="#000" stroke-width="2.95" stroke-linecap="round" stroke-linejoin="round">
<path d="M2317.90 466.40L2329.40 454.90L2340.90 466.40L2329.40 477.90Z" stroke="#000"/>
<rect x="2321.40" y="530.30" width="16.20" height="16.20" stroke="#000"/>
<path d="M2317.90 610.40H2340.90M2329.40 598.90V621.90M2321.27 602.27L2337.53 618.53M2321.27 618.53L2337.53 602.27" stroke="#000"/>
</g>
<text class="lb" x="2374.3" y="479.9">CAPICE Testing</text>
<text class="lb" x="2374.3" y="551.8">CAPICE Training</text>
<text class="lb" x="2374.3" y="623.7">VKGL Oct. 2019</text>
<text class="ti" x="2294.5" y="773.7">Classification</text>
<circle cx="2329.4" cy="827.8" r="9.6" fill="#21FF06"/>
<text class="lb" x="2373.8" y="840.9">LB/B</text>
<circle cx="2329.4" cy="899.6" r="9.6" fill="#FB0007"/>
<text class="lb" x="2373.8" y="912.7">LP/P</text>
<circle cx="2329.4" cy="971.4" r="9.6" fill="#0000FF"/>
<text class="lb" x="2373.8" y="984.5">VUS</text>
</g>
</svg></body></html>
